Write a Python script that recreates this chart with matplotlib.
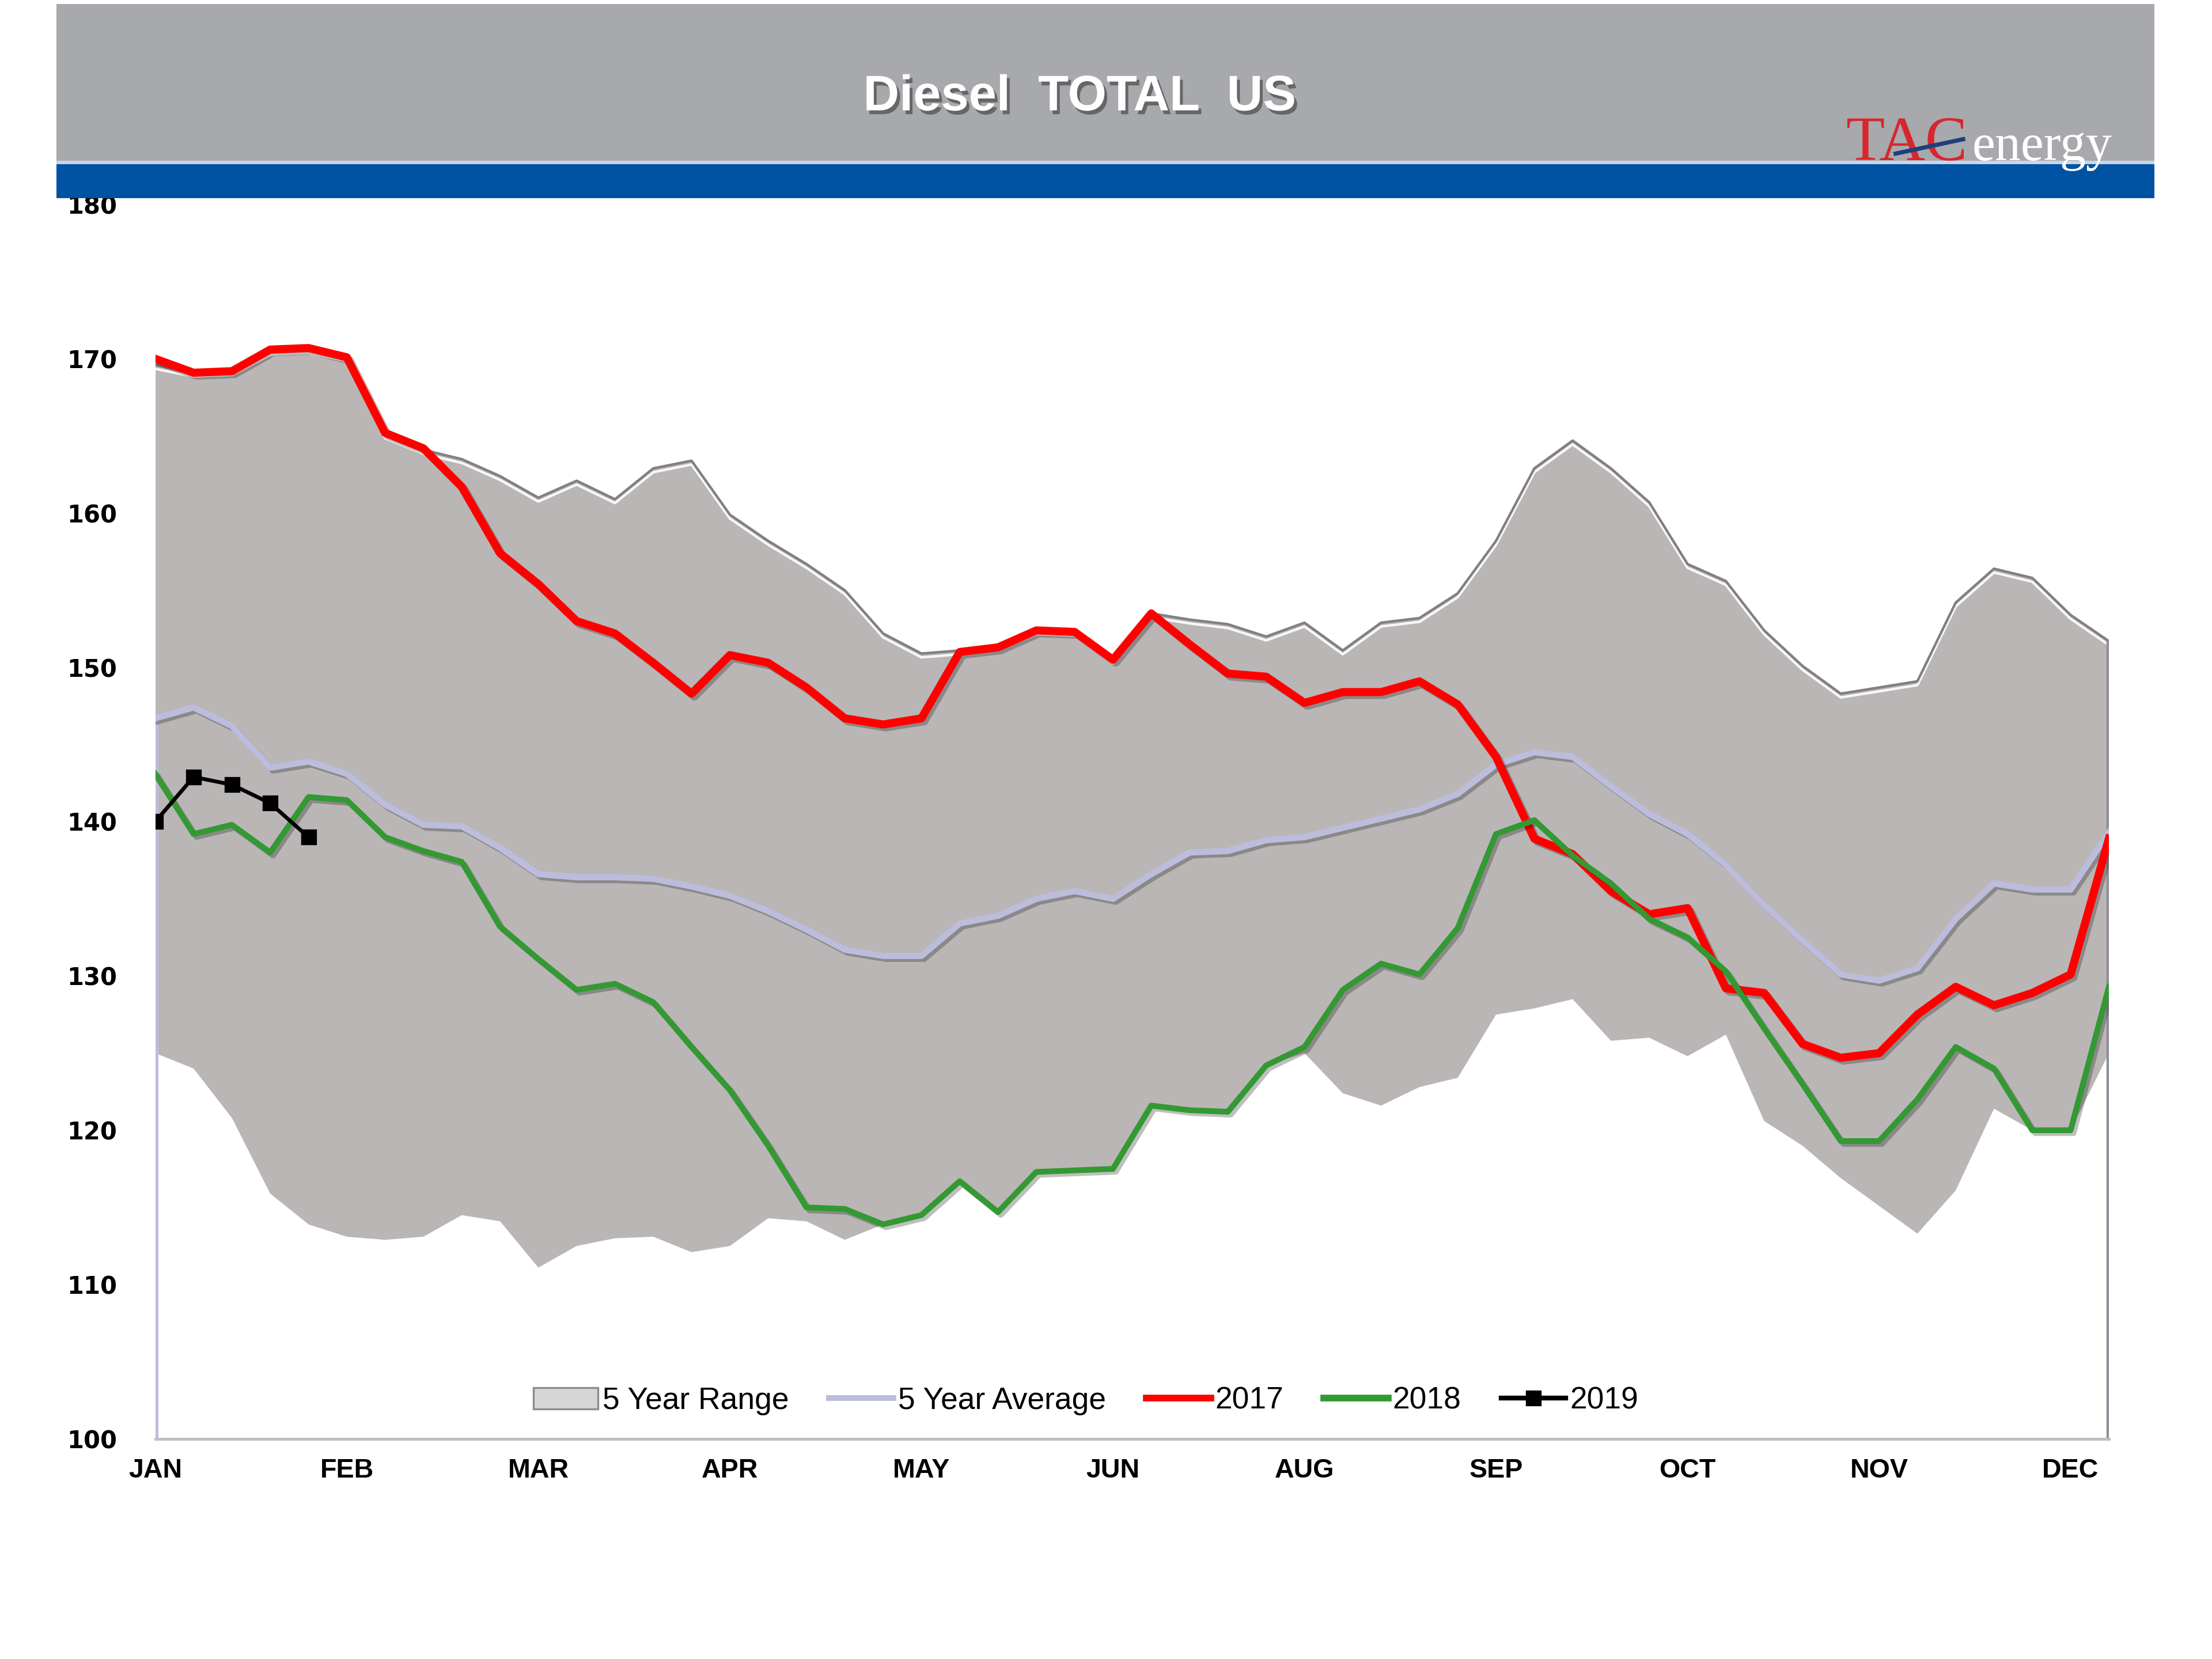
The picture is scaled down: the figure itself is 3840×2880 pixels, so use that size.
import matplotlib

matplotlib.use("Agg")

import matplotlib.patheffects as pe
import matplotlib.pyplot as plt
import numpy as np
from matplotlib.lines import Line2D
from matplotlib.patches import Patch, Rectangle

plt.rcParams["font.family"] = ["Liberation Sans", "DejaVu Sans"]

# weekly values (52 weeks)
month_labels = ["JAN", "FEB", "MAR", "APR", "MAY", "JUN",
                "AUG", "SEP", "OCT", "NOV", "DEC"]

range_hi = [169.6, 169.1, 169.2, 170.5, 170.6, 170.1, 165.1, 164.1, 163.5, 162.4,
            161.0, 162.1, 160.9, 162.9, 163.4, 159.9, 158.2, 156.7, 155.0, 152.2,
            150.9, 151.1, 151.4, 152.4, 152.3, 150.5, 153.5, 153.1, 152.8, 152.0,
            152.9, 151.1, 152.9, 153.2, 154.8, 158.2, 162.9, 164.7, 162.9, 160.7,
            156.7, 155.6, 152.4, 150.1, 148.3, 148.7, 149.1, 154.2, 156.4, 155.8,
            153.4, 151.7]

range_lo = [125.0, 124.0, 120.8, 115.9, 113.9, 113.1, 112.9, 113.1, 114.5, 114.1,
            111.1, 112.5, 113.0, 113.1, 112.1, 112.5, 114.3, 114.1, 112.9, 113.9,
            114.5, 116.7, 114.7, 117.3, 117.4, 117.5, 121.6, 121.3, 121.2, 124.2,
            125.0, 122.4, 121.6, 122.8, 123.4, 127.5, 127.9, 128.5, 125.8, 126.0,
            124.8, 126.2, 120.6, 119.0, 116.9, 115.1, 113.3, 116.1, 121.4, 120.0,
            120.0, 125.0]

avg_5yr = [146.7, 147.4, 146.2, 143.5, 143.9, 143.1, 141.1, 139.8, 139.7, 138.3,
           136.6, 136.4, 136.4, 136.3, 135.8, 135.2, 134.2, 133.0, 131.7, 131.3,
           131.3, 133.4, 133.9, 135.0, 135.5, 135.0, 136.6, 138.0, 138.1, 138.8,
           139.0, 139.6, 140.2, 140.8, 141.8, 143.7, 144.5, 144.2, 142.3, 140.5,
           139.2, 137.2, 134.6, 132.3, 130.1, 129.7, 130.5, 133.7, 136.0, 135.6,
           135.6, 139.3]

y2017 = [170.0, 169.1, 169.2, 170.6, 170.7, 170.1, 165.2, 164.2, 161.7, 157.4,
         155.4, 153.0, 152.2, 150.3, 148.3, 150.8, 150.3, 148.7, 146.7, 146.3,
         146.7, 151.0, 151.3, 152.4, 152.3, 150.5, 153.5, 151.5, 149.6, 149.4,
         147.7, 148.4, 148.4, 149.1, 147.6, 144.2, 138.9, 137.9, 135.5, 134.0,
         134.4, 129.2, 128.9, 125.6, 124.7, 125.0, 127.5, 129.3, 128.1, 128.9,
         130.1, 138.9]

y2018 = [143.1, 139.2, 139.8, 138.0, 141.6, 141.4, 139.0, 138.1, 137.4, 133.2,
         131.1, 129.1, 129.5, 128.3, 125.4, 122.6, 119.0, 115.0, 114.9, 113.9,
         114.5, 116.7, 114.7, 117.3, 117.4, 117.5, 121.6, 121.3, 121.2, 124.2,
         125.4, 129.1, 130.8, 130.1, 133.1, 139.2, 140.1, 137.8, 136.0, 133.7,
         132.5, 130.3, 126.6, 123.0, 119.3, 119.3, 122.0, 125.4, 124.0, 120.0,
         120.0, 129.3]

y2019 = [140.0, 142.9, 142.4, 141.2, 139.0]

fill_grey = "#bab6b6"
lavender = "#bcbddd"
red = "#ff0000"
green = "#339933"


def line_shadow():
    return [pe.SimpleLineShadow(offset=(1.5, -1.5), alpha=0.25), pe.Normal()]


fig = plt.figure(figsize=(16, 12), dpi=240)
ax = fig.add_axes([0.0702, 0.1327, 0.8832, 0.744])

weeks = np.arange(len(range_hi))

ax.fill_between(weeks, range_lo, range_hi, facecolor=fill_grey, lw=0, zorder=1)
ax.plot(weeks, range_hi, color="#808080", lw=1.3, zorder=1.5,
        path_effects=[pe.SimpleLineShadow(offset=(0, -2), shadow_color="white", alpha=0.9),
                      pe.Normal()])
ax.vlines(weeks[0], 100, avg_5yr[0], color=lavender, lw=3, zorder=1.6)
ax.vlines(weeks[-1], 100, range_hi[-1], color="#8e8e9a", lw=2.5, zorder=1.6)

ax.plot(weeks, avg_5yr, color=lavender, lw=3.2, zorder=2, path_effects=line_shadow())
ax.plot(weeks, y2017, color=red, lw=4.2, zorder=3, path_effects=line_shadow())
ax.plot(weeks, y2018, color=green, lw=3, zorder=3, path_effects=line_shadow())
ax.plot(weeks[:len(y2019)], y2019, color="black", lw=2, marker="s", ms=7, zorder=4)

ax.set_xlim(weeks[0], weeks[-1])
ax.set_ylim(100, 180)
ax.set_xticks(weeks[::5])
ax.set_xticklabels(month_labels, fontsize=14, fontweight="bold")
ax.set_yticks(np.arange(100, 181, 10))
ax.set_yticklabels([str(v) for v in range(100, 181, 10)], fontsize=12.5,
                   fontweight="heavy", family="DejaVu Sans")
ax.tick_params(axis="x", length=0, pad=10)
ax.tick_params(axis="y", length=0, pad=20)
for side in ["top", "right", "left"]:
    ax.spines[side].set_visible(False)
ax.spines["bottom"].set_color("#bfbfbf")
ax.spines["bottom"].set_linewidth(1.5)
ax.set_facecolor("none")

handles = [
    Patch(facecolor="#d6d6d6", edgecolor="#8c8c8c", lw=1),
    Line2D([], [], color=lavender, lw=3),
    Line2D([], [], color=red, lw=3.5),
    Line2D([], [], color=green, lw=3.5),
    Line2D([], [], color="black", lw=2.5, marker="s", ms=7),
]
labels = ["5 Year Range", "5 Year Average", "2017", "2018", "2019"]
fig.legend(handles, labels, loc="center", bbox_to_anchor=(0.491, 0.1556), ncol=5,
           frameon=False, fontsize=16, handlelength=2.1, handletextpad=0.15,
           columnspacing=1.3)

# header band
fig.add_artist(Rectangle((0.0255, 0.9022), 0.9484, 0.0952, transform=fig.transFigure,
                         facecolor="#a7a9ac", edgecolor="none", zorder=5))
fig.add_artist(Rectangle((0.0255, 0.8806), 0.9484, 0.0216, transform=fig.transFigure,
                         facecolor="#0052a2", edgecolor="none", zorder=5))
fig.add_artist(Rectangle((0.0255, 0.9012), 0.9484, 0.002, transform=fig.transFigure,
                         facecolor="#c9d6ea", edgecolor="none", zorder=5))

fig.text(0.488, 0.9413, "Diesel  TOTAL  US", color="white", fontsize=26,
         fontweight="bold", ha="center", va="center", zorder=6,
         path_effects=[pe.SimplePatchShadow(offset=(1.5, -2), shadow_rgbFace="#4a4a4a",
                                            alpha=0.7), pe.Normal()])

# logo
fig.text(0.8345, 0.9034, "TAC", color="#d7262e", fontsize=33, family="Liberation Serif",
         ha="left", va="baseline", zorder=6)
fig.text(0.9549, 0.9034, "energy", color="white", fontsize=27, family="Liberation Serif",
         ha="right", va="baseline", zorder=6)
fig.add_artist(Line2D([0.857, 0.8875], [0.9074, 0.9161], transform=fig.transFigure,
                      color="#1f3f7a", lw=2.2, zorder=7))

fig.savefig("out.png", dpi=240, facecolor="white")
